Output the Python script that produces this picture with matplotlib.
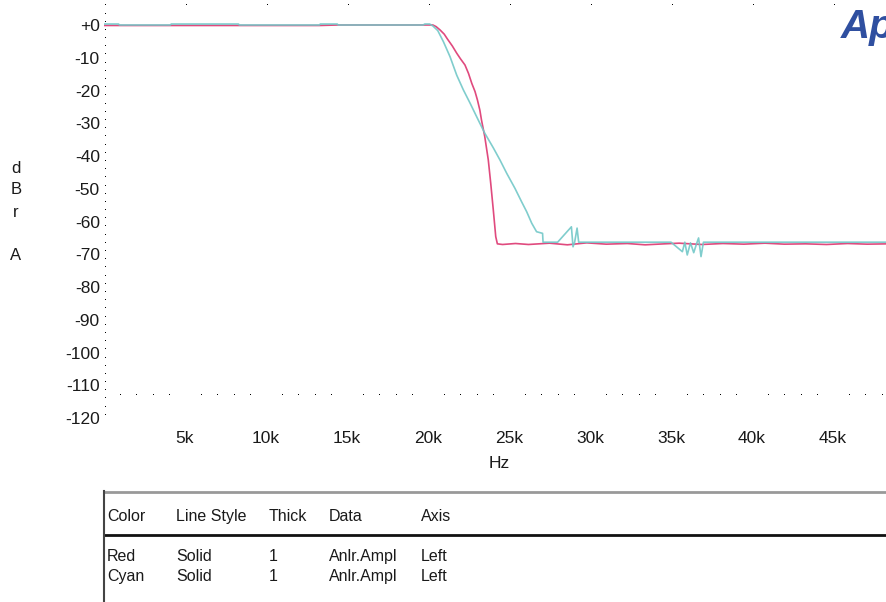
import matplotlib
matplotlib.use("Agg")
from matplotlib import pyplot as plt
from matplotlib.lines import Line2D
import numpy as np

plt.rcParams['font.family'] = ['Liberation Sans', 'DejaVu Sans']

# frequency in kHz, level in dBrA
red_freq = [0, 0.9, 4.1, 8.3, 13.3, 14.4, 19.5, 20.3, 20.5, 20.74, 21.0, 21.2, 21.5, 21.77,
            22.0, 22.28, 22.5, 22.7, 22.9, 23.05, 23.2, 23.3, 23.5, 23.72, 23.87, 24.03,
            24.18, 24.28, 24.6, 25.4, 26.2, 27.5, 28.6, 29.8, 31.0, 32.3, 33.4, 34.6,
            35.5, 36.9, 38.2, 39.5, 40.8, 42.0, 43.3, 44.6, 45.9, 47.1, 48.4]
red_level = [-0.15, -0.15, -0.15, -0.15, -0.15, 0, 0, 0, -0.5, -1.5, -2.8, -4.3, -6.4, -8.6,
             -10.3, -12.2, -14.8, -17.8, -20.3, -22.9, -26.0, -29, -34, -41.2, -48.3, -56.5,
             -64.6, -66.8, -67.0, -66.7, -67.0, -66.6, -67.1, -66.5, -66.9, -66.7, -67.1,
             -66.8, -66.6, -67.0, -66.7, -66.9, -66.6, -66.9, -66.8, -67.0, -66.7, -66.9, -66.8]

cyan_freq = [0, 0.9, 0.95, 4.1, 4.15, 8.3, 8.35, 13.3, 13.35, 14.4, 14.45, 19.7, 19.8,
             20.1, 20.3, 20.6, 20.95, 21.36, 21.77, 22.18, 22.6, 23.1, 23.5, 24.03, 24.44,
             24.86, 25.37, 25.78, 26.09, 26.4, 26.7, 27.07, 27.1, 28.0, 28.85, 28.95,
             29.05, 29.2, 29.3, 30.5, 32.0, 33.5, 35.0, 35.7, 35.85, 36.0, 36.2, 36.4,
             36.6, 36.7, 36.85, 37.0, 38.0, 40.0, 42.0, 44.0, 46.0, 48.4]
cyan_level = [0.3, 0.3, 0, 0, 0.3, 0.3, 0, 0, 0.3, 0.3, 0, 0, 0.3,
              0.3, -0.3, -1.7, -5.1, -9.7, -15.3, -19.8, -23.9, -29, -33, -37.5, -41.2,
              -45.3, -49.9, -54, -57, -60.5, -63.1, -63.6, -66.3, -66.3, -61.6, -67.7,
              -66.3, -62, -66.3, -66.3, -66.3, -66.3, -66.3, -69.2, -66.3, -70.2, -66.5,
              -69.5, -66.4, -65.0, -70.7, -66.3, -66.3, -66.3, -66.3, -66.3, -66.3, -66.3]

y_ticks = [0, -10, -20, -30, -40, -50, -60, -70, -80, -90, -100, -110, -120]
y_labels = ['+0'] + [str(v) for v in y_ticks[1:]]
x_ticks = [5, 10, 15, 20, 25, 30, 35, 40, 45]
x_labels = ['%dk' % v for v in x_ticks]

W, H = 887, 602
fig = plt.figure(figsize=(W / 100, H / 100), dpi=100)
ax = fig.add_axes([104 / W, 1 - 425 / H, (887 - 104) / W, 425 / H])
ax.set_xlim(0, 48.33)
ax.set_ylim(-122.1, 7.63)
for s in ax.spines.values():
    s.set_visible(False)

ax.plot(red_freq, red_level, color='#e04a7e', lw=1.2, zorder=3)
ax.plot(cyan_freq, cyan_level, color='#72c8c8', lw=1.2, alpha=0.9, zorder=4)

# dotted axis marks
left_dots = np.arange(6, -121, -2.5)
ax.plot(np.zeros_like(left_dots) + 0.05, left_dots, ls='none', marker=',',
        color='black', clip_on=False)
top_dots = np.arange(0, 48, 5)
ax.plot(top_dots + 0.05, np.full(len(top_dots), 6.1), ls='none', marker=',',
        color='black', clip_on=False)
bot_dots = [k for k in range(1, 49) if k % 5 != 0]
ax.plot(bot_dots, np.full(len(bot_dots), -113), ls='none', marker=',',
        color='black', clip_on=False)

ax.set_yticks(y_ticks)
ax.set_yticklabels(y_labels)
ax.set_xticks(x_ticks)
ax.set_xticklabels(x_labels)
ax.tick_params(axis='both', length=0, labelsize=12.5, colors='#1a1a1a')
ax.tick_params(axis='y', pad=3)
ax.tick_params(axis='x', pad=4)

fig.text(499 / W, 1 - 463 / H, 'Hz', ha='center', va='center', fontsize=12.5, color='#1a1a1a')
for ch, yy in zip(['d', 'B', 'r', 'A'], [168, 190, 213, 256]):
    fig.text(16 / W, 1 - yy / H, ch, ha='center', va='center', fontsize=12, color='#1a1a1a')

fig.text(841 / W, 1 - 27 / H, 'Ap', ha='left', va='center', fontsize=29,
         fontweight='bold', fontstyle='italic', color='#2f4fa0')

# legend table
fig.add_artist(Line2D([104 / W, 1], [1 - 492 / H, 1 - 492 / H], color='#999999', lw=2))
fig.add_artist(Line2D([104 / W, 1], [1 - 535 / H, 1 - 535 / H], color='#111111', lw=2))
fig.add_artist(Line2D([104 / W, 104 / W], [1 - 491 / H, 0], color='#444444', lw=1.5))

header = ['Color', 'Line Style', 'Thick', 'Data', 'Axis']
col_x = [107, 176, 269, 329, 421]
rows = [['Red', 'Solid', '1', 'Anlr.Ampl', 'Left'],
        ['Cyan', 'Solid', '1', 'Anlr.Ampl', 'Left']]
for txt, cx in zip(header, col_x):
    fig.text(cx / W, 1 - 521 / H, txt, ha='left', va='baseline', fontsize=11.5,
             color='#1a1a1a')
for row, ry in zip(rows, [561, 581]):
    for txt, cx in zip(row, col_x):
        fig.text(cx / W, 1 - ry / H, txt, ha='left', va='baseline', fontsize=11.5,
                 color='#1a1a1a')

fig.savefig('out.png', dpi=100)
